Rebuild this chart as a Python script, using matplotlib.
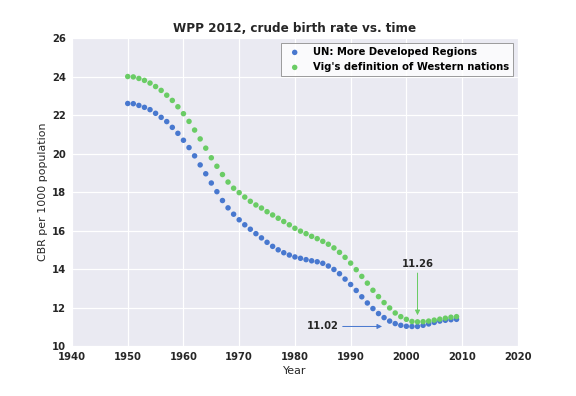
import matplotlib
matplotlib.use('Agg')
import matplotlib.pyplot as plt

# 数据：1950-2009 年粗出生率
years = list(range(1950, 2010))

un_developed = [
    22.60, 22.59, 22.50, 22.40, 22.28, 22.09, 21.88, 21.66, 21.36, 21.05,
    20.69, 20.31, 19.88, 19.41, 18.95, 18.47, 18.02, 17.56, 17.18, 16.85,
    16.56, 16.30, 16.07, 15.84, 15.62, 15.39, 15.18, 15.00, 14.85, 14.73,
    14.63, 14.56, 14.49, 14.43, 14.38, 14.30, 14.16, 13.98, 13.76, 13.48,
    13.20, 12.89, 12.56, 12.24, 11.95, 11.69, 11.48, 11.30, 11.17, 11.08,
    11.03, 11.02, 11.02, 11.08, 11.15, 11.23, 11.30, 11.34, 11.37, 11.39,
]

vig_western = [
    24.00, 23.98, 23.90, 23.80, 23.66, 23.48, 23.28, 23.03, 22.76, 22.43,
    22.07, 21.67, 21.22, 20.76, 20.28, 19.78, 19.34, 18.91, 18.52, 18.20,
    17.97, 17.74, 17.52, 17.33, 17.17, 16.98, 16.81, 16.64, 16.47, 16.30,
    16.12, 15.97, 15.84, 15.70, 15.58, 15.44, 15.29, 15.10, 14.87, 14.61,
    14.31, 13.97, 13.62, 13.27, 12.90, 12.57, 12.26, 11.98, 11.72, 11.53,
    11.39, 11.28, 11.26, 11.27, 11.30, 11.35, 11.40, 11.45, 11.50, 11.53,
]

blue = '#4878CF'
green = '#6ACC65'
text_color = '#262626'

plt.rcParams['font.family'] = ['DejaVu Sans']

fig = plt.figure(figsize=(8, 5.5), dpi=72)
ax = fig.add_axes([0.125, 0.126, 0.774, 0.778])
ax.set_facecolor('#EAEAF2')
for s in ax.spines.values():
    s.set_visible(False)
ax.grid(True, color='white', linewidth=1.2)
ax.set_axisbelow(True)

ax.scatter(years, un_developed, s=30, color=blue, edgecolors='none',
           label='UN: More Developed Regions', zorder=3)
ax.scatter(years, vig_western, s=30, color=green, edgecolors='none',
           label="Vig's definition of Western nations", zorder=3)

# 最小值标注
ax.annotate('11.02', xy=(1996, 11.02), xytext=(1985, 11.02),
            ha='center', va='center', fontsize=10, fontweight='bold', color=text_color,
            arrowprops=dict(arrowstyle='-|>', color=blue, lw=1.0))
ax.annotate('11.26', xy=(2002, 11.5), xytext=(2002, 14.26),
            ha='center', va='center', fontsize=10, fontweight='bold', color=text_color,
            arrowprops=dict(arrowstyle='-|>', color=green, lw=1.0))

ax.set_xlim(1940, 2020)
ax.set_ylim(10, 26)
ax.set_xticks(range(1940, 2021, 10))
ax.set_yticks(range(10, 27, 2))
ax.tick_params(length=0, labelsize=10, pad=6, labelcolor=text_color)
for lab in ax.get_xticklabels() + ax.get_yticklabels():
    lab.set_fontweight('bold')

ax.set_xlabel('Year', fontsize=11, color=text_color)
ax.set_ylabel('CBR per 1000 population', fontsize=11, color=text_color)
ax.set_title('WPP 2012, crude birth rate vs. time', fontsize=12, fontweight='bold',
             color=text_color)

leg = ax.legend(loc='upper right', scatterpoints=1, frameon=True,
                prop={'size': 10, 'weight': 'bold'}, fancybox=False)
leg.get_frame().set_edgecolor('#888888')
leg.get_frame().set_facecolor('white')
leg.get_frame().set_alpha(0.8)

plt.savefig('out.png', dpi=72)
